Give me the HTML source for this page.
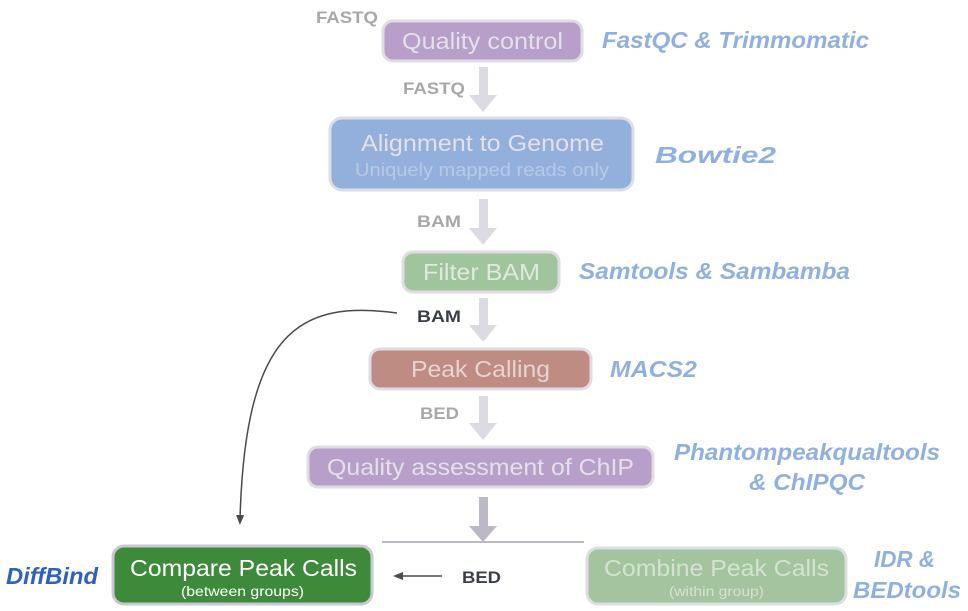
<!DOCTYPE html>
<html><head><style>
html,body{margin:0;padding:0;background:#fff;}
svg{display:block;}
text{font-family:"Liberation Sans",Arial,sans-serif;}
</style></head><body>
<svg width="968" height="611" viewBox="0 0 968 611" xmlns="http://www.w3.org/2000/svg">
<defs>
<marker id="ah" markerWidth="10" markerHeight="10" refX="5" refY="5" orient="auto" markerUnits="userSpaceOnUse">
<path d="M0,1 L10,5 L0,9 Z" fill="#4a4a4a"/></marker>
</defs>
<g fill="#dcdbe3">
<rect x="479" y="67" width="9" height="29"/><path d="M469,95 L497,95 L483,112 Z"/>
<rect x="479" y="199" width="9" height="30"/><path d="M469,228 L497,228 L483,245 Z"/>
<rect x="479" y="298" width="9" height="28"/><path d="M469,325 L497,325 L483,342 Z"/>
<rect x="479" y="396" width="9" height="28"/><path d="M469,423 L497,423 L483,440 Z"/>
</g>
<g fill="#bcb8c8">
<rect x="479" y="497" width="9" height="30"/><path d="M469,526 L497,526 L483,542 Z"/>
</g>
<line x1="382" y1="542" x2="584" y2="542" stroke="#bcb8c8" stroke-width="2"/>
<path d="M397,313 C300,300 245,330 240,520" fill="none" stroke="#4a4a4a" stroke-width="1.5" marker-end="url(#ah)"/>
<line x1="442" y1="576" x2="398" y2="576" stroke="#4a4a4a" stroke-width="1.5" marker-end="url(#ah)"/>
<g stroke="#dddde3" stroke-width="3">
<rect x="383" y="21" width="199" height="40" rx="10" fill="#b79fca"/>
<rect x="330" y="118" width="303" height="72" rx="12" fill="#93b0dc"/>
<rect x="403" y="252" width="156" height="40" rx="10" fill="#a0c49c"/>
<rect x="370" y="349" width="221" height="40" rx="10" fill="#bf8c84"/>
<rect x="308" y="447" width="345" height="40" rx="10" fill="#b79fca"/>
<rect x="587" y="548" width="259" height="56" rx="11" fill="#a3c49e"/>
</g>
<rect x="113" y="546" width="259" height="58" rx="11" fill="#3d8a3a" stroke="#c8c8d0" stroke-width="3"/>
<g fill="#e4e0ea">
<text x="402" y="49" font-size="23" textLength="161" lengthAdjust="spacingAndGlyphs">Quality control</text>
<text x="361" y="151" font-size="23" textLength="243" lengthAdjust="spacingAndGlyphs">Alignment to Genome</text>
<text x="355" y="176" font-size="18" fill="#b8c8e6" textLength="254" lengthAdjust="spacingAndGlyphs">Uniquely mapped reads only</text>
<text x="423" y="280" font-size="23" fill="#dfeadc" textLength="117" lengthAdjust="spacingAndGlyphs">Filter BAM</text>
<text x="411" y="377" font-size="23" fill="#e6d4d0" textLength="139" lengthAdjust="spacingAndGlyphs">Peak Calling</text>
<text x="327" y="475" font-size="23" textLength="307" lengthAdjust="spacingAndGlyphs">Quality assessment of ChIP</text>
<text x="604" y="576" font-size="23" fill="#d4e3d1" textLength="225" lengthAdjust="spacingAndGlyphs">Combine Peak Calls</text>
<text x="669" y="596" font-size="14" fill="#d4e3d1" textLength="95" lengthAdjust="spacingAndGlyphs">(within group)</text>
<text x="130" y="576" font-size="23" fill="#ffffff" textLength="227" lengthAdjust="spacingAndGlyphs">Compare Peak Calls</text>
<text x="181" y="596" font-size="14" fill="#ffffff" textLength="123" lengthAdjust="spacingAndGlyphs">(between groups)</text>
</g>
<g font-weight="bold" font-size="17" fill="#a8a8a8">
<text x="316" y="23" textLength="62" lengthAdjust="spacingAndGlyphs">FASTQ</text>
<text x="403" y="94" textLength="62" lengthAdjust="spacingAndGlyphs">FASTQ</text>
<text x="417" y="227" textLength="44" lengthAdjust="spacingAndGlyphs">BAM</text>
<text x="417" y="322" fill="#3a3f4a" textLength="44" lengthAdjust="spacingAndGlyphs">BAM</text>
<text x="420" y="419" textLength="39" lengthAdjust="spacingAndGlyphs">BED</text>
<text x="462" y="583" fill="#3a3f4a" textLength="39" lengthAdjust="spacingAndGlyphs">BED</text>
</g>
<g font-style="italic" font-weight="bold" font-size="23" fill="#8fb0e0">
<text x="602" y="48" textLength="267" lengthAdjust="spacingAndGlyphs">FastQC &amp; Trimmomatic</text>
<text x="655" y="163" textLength="121" lengthAdjust="spacingAndGlyphs">Bowtie2</text>
<text x="579" y="279" textLength="271" lengthAdjust="spacingAndGlyphs">Samtools &amp; Sambamba</text>
<text x="610" y="377" textLength="87" lengthAdjust="spacingAndGlyphs">MACS2</text>
<text x="674" y="460" textLength="266" lengthAdjust="spacingAndGlyphs">Phantompeakqualtools</text>
<text x="749" y="490" textLength="116" lengthAdjust="spacingAndGlyphs">&amp; ChIPQC</text>
<text x="874" y="567" textLength="61" lengthAdjust="spacingAndGlyphs">IDR &amp;</text>
<text x="853" y="598" textLength="108" lengthAdjust="spacingAndGlyphs">BEDtools</text>
<text x="6" y="584" fill="#2e62c0" textLength="92" lengthAdjust="spacingAndGlyphs">DiffBind</text>
</g>
</svg>
</body></html>
